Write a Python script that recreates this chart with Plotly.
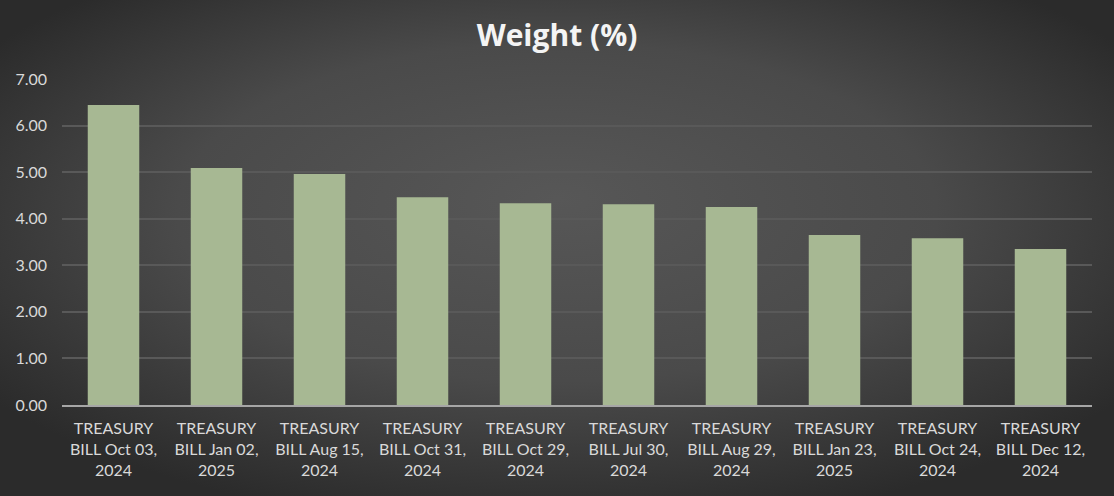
import base64
import plotly.graph_objects as go

categories = [
    "TREASURY<br>BILL Oct 03,<br>2024",
    "TREASURY<br>BILL Jan 02,<br>2025",
    "TREASURY<br>BILL Aug 15,<br>2024",
    "TREASURY<br>BILL Oct 31,<br>2024",
    "TREASURY<br>BILL Oct 29,<br>2024",
    "TREASURY<br>BILL Jul 30,<br>2024",
    "TREASURY<br>BILL Aug 29,<br>2024",
    "TREASURY<br>BILL Jan 23,<br>2025",
    "TREASURY<br>BILL Oct 24,<br>2024",
    "TREASURY<br>BILL Dec 12,<br>2024",
]
weights = [6.44, 5.09, 4.96, 4.46, 4.33, 4.31, 4.25, 3.65, 3.58, 3.35]
y_ticks = [0, 1, 2, 3, 4, 5, 6, 7]
y_tick_labels = ["0.00", "1.00", "2.00", "3.00", "4.00", "5.00", "6.00", "7.00"]

W, H = 1114, 496
ml, mr, mt, mb = 62, 22, 79, 91
pw, ph = W - ml - mr, H - mt - mb

svg = (
    f'<svg xmlns="http://www.w3.org/2000/svg" width="{W}" height="{H}" viewBox="0 0 {W} {H}" preserveAspectRatio="none">'
    '<defs><radialGradient id="g" cx="50%" cy="45%" r="62%" fx="50%" fy="40%" gradientUnits="objectBoundingBox">'
    '<stop offset="0%" stop-color="#575757"/><stop offset="55%" stop-color="#4a4a4a"/>'
    '<stop offset="100%" stop-color="#2b2b2b"/></radialGradient></defs>'
    f'<rect width="{W}" height="{H}" fill="url(#g)"/></svg>'
)
bg_src = "data:image/svg+xml;base64," + base64.b64encode(svg.encode()).decode()

fig = go.Figure()
fig.add_trace(go.Bar(
    x=categories, y=weights, width=0.5,
    marker=dict(color="#a7b893", line=dict(width=0)),
    hoverinfo="x+y",
))

fig.update_layout(
    width=W, height=H,
    margin=dict(l=ml, r=mr, t=mt, b=mb),
    paper_bgcolor="#3a3a3a",
    plot_bgcolor="rgba(0,0,0,0)",
    showlegend=False,
    title=dict(text="<b>Weight (%)</b>", x=0.5, xanchor="center", y=1 - 35 / H, yanchor="middle",
               font=dict(family="Open Sans, sans-serif", size=30, color="#f4f4f4")),
    font=dict(family="Lato, Open Sans, sans-serif", size=16, color="#d9d9d9"),
    images=[dict(source=bg_src, xref="paper", yref="paper",
                 x=-ml / pw, y=1 + mt / ph, sizex=W / pw, sizey=H / ph,
                 xanchor="left", yanchor="top", sizing="stretch", layer="below")],
)
fig.update_xaxes(showgrid=False, showline=True, linecolor="#a6a6a6", linewidth=2,
                 tickfont=dict(size=16, color="#d9d9d9"), ticks="", tickangle=0,
                 ticklabelstandoff=8)
fig.update_yaxes(range=[0, 7], tickvals=y_ticks, ticktext=y_tick_labels,
                 showgrid=True, gridcolor="#595959", gridwidth=2, zeroline=False,
                 tickfont=dict(size=16, color="#d9d9d9"), ticks="", showline=False,
                 ticklabelstandoff=14)

fig.write_html("out.html", config={"displayModeBar": False},
               post_script="document.body.style.margin='0';")
